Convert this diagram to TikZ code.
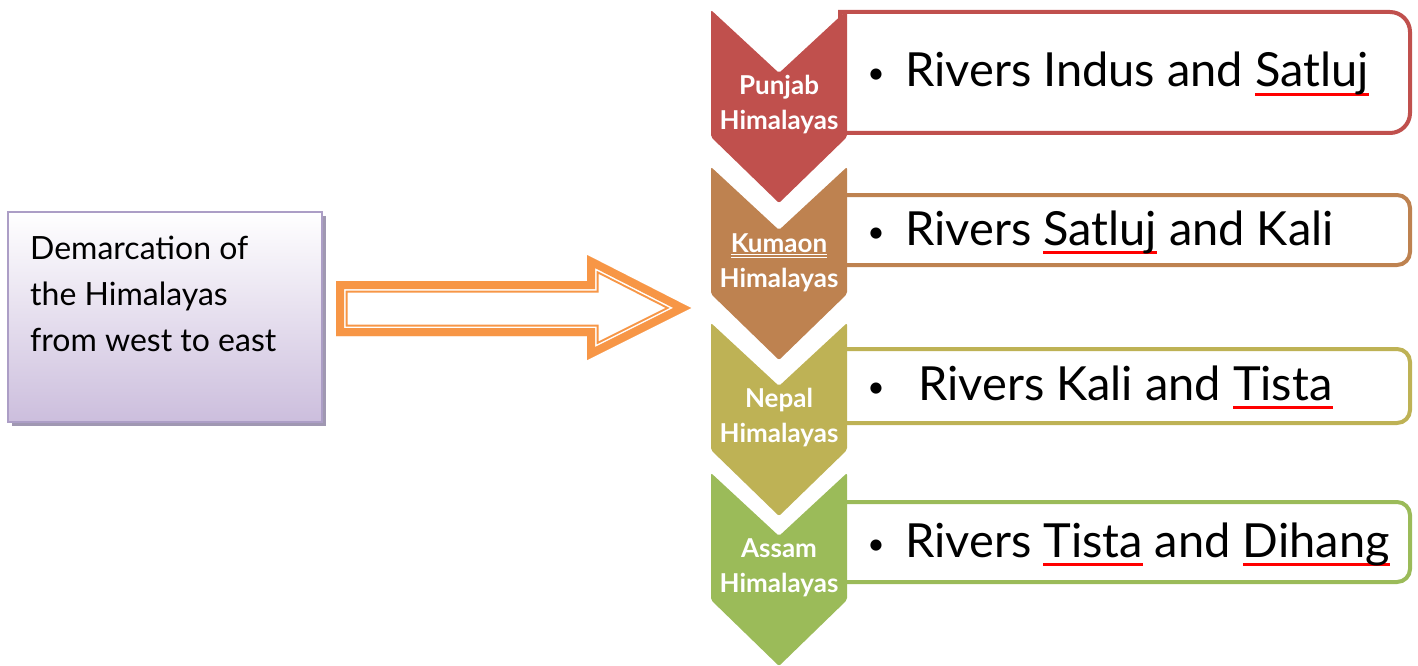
\documentclass[tikz,border=0pt]{standalone}
\usepackage{fontspec}
\setmainfont{Lato}
\definecolor{cRed}{RGB}{192,80,77}
\definecolor{cBrown}{RGB}{190,130,80}
\definecolor{cOlive}{RGB}{190,178,85}
\definecolor{cGreen}{RGB}{155,187,89}
\definecolor{cOrange}{RGB}{247,150,70}
\definecolor{cLav}{RGB}{204,190,221}
\definecolor{cLavB}{RGB}{172,158,198}
\definecolor{cShadow}{RGB}{160,152,178}
\newsavebox\ulbox
\newcommand\redul[1]{\sbox\ulbox{#1}\rlap{\textcolor{red}{\rule[-9pt]{\wd\ulbox}{3pt}}}\usebox\ulbox}
\newcommand\dblul[1]{\sbox\ulbox{#1}\rlap{\rule[-2pt]{\wd\ulbox}{1pt}}\rlap{\rule[-5pt]{\wd\ulbox}{1pt}}\usebox\ulbox}
\newcommand\chevshape[2]{%
  \fill[#2, rounded corners=2pt] (711,#1) -- (779,{#1+63}) -- (847,#1) -- (847,{#1+127}) -- (779,{#1+193}) -- (711,{#1+127}) -- cycle;}
\newcommand\riverbox[4]{% top, bottom, radius, color
  \draw[rbox, draw=#4] (840,#1) [rounded corners=#3pt] -- (1410,#1) -- (1410,#2) [sharp corners] -- (840,#2) -- cycle;}
\tikzset{
  rbox/.style={line width=4pt, fill=white},
  chevlabel/.style={text=white, align=center, inner sep=0pt, font=\fontsize{26}{35}\selectfont\bfseries},
  rivertext/.style={anchor=base west, inner sep=0pt, font=\fontsize{47}{50}\selectfont},
  bullettext/.style={anchor=base, inner sep=0pt, font=\fontsize{30}{36}\selectfont},
  lefttext/.style={anchor=base west, inner sep=0pt, font=\fontsize{32}{36}\selectfont},
}
\begin{document}
\begin{tikzpicture}[x=1pt,y=-1pt]
\useasboundingbox (0,0) rectangle (1418,666);
% left box
\fill[cShadow] (12,216) rectangle (326,426);
\shade[top color=white, bottom color=cLav] (8,212) rectangle (322,422);
\draw[cLavB, line width=2pt] (8,212) rectangle (322,422);
\node[lefttext] (l1) at (30,259) {Demarcation of};
\node[lefttext] (l2) at (30,305) {the Himalayas};
\node[lefttext] (l3) at (30,351) {from west to east};
% arrow
\coordinate (a1) at (336,281);
\coordinate (a2) at (587,281);
\coordinate (a3) at (587,255);
\coordinate (a4) at (691,308);
\coordinate (a5) at (587,360);
\coordinate (a6) at (587,336);
\coordinate (a7) at (336,336);
\begin{scope}
\clip (a1) -- (a2) -- (a3) -- (a4) -- (a5) -- (a6) -- (a7) -- cycle;
\fill[white] (a1) -- (a2) -- (a3) -- (a4) -- (a5) -- (a6) -- (a7) -- cycle;
\foreach \w/\c in {23/cOrange,19/white,16/cOrange}
  \draw[\c, line width=\w pt, line join=miter] (a1) -- (a2) -- (a3) -- (a4) -- (a5) -- (a6) -- (a7) -- cycle;
\end{scope}
% right boxes
\riverbox{12}{133}{20}{cRed}
\riverbox{195}{265}{13}{cBrown}
\riverbox{349}{423}{13}{cOlive}
\riverbox{502}{582}{13}{cGreen}
% chevrons
\chevshape{10}{cRed}
\chevshape{167}{cBrown}
\chevshape{323}{cOlive}
\chevshape{473}{cGreen}
\node[chevlabel] (c1) at (779,105) {Punjab\\Himalayas};
\node[chevlabel] (c2) at (779,263) {\dblul{Kumaon}\\Himalayas};
\node[chevlabel] (c3) at (779,418) {Nepal\\Himalayas};
\node[chevlabel] (c4) at (779,568) {Assam\\Himalayas};
% texts
\node[bullettext] (b1) at (876,84) {\textbullet};
\node[rivertext] (r1) at (905,87) {Rivers Indus and \redul{Satluj}};
\node[bullettext] (b2) at (876,242) {\textbullet};
\node[rivertext] (r2) at (905,245) {Rivers \redul{Satluj} and Kali};
\node[bullettext] (b3) at (876,397) {\textbullet};
\node[rivertext] (r3) at (918,400) {Rivers Kali and \redul{Tista}};
\node[bullettext] (b4) at (876,554) {\textbullet};
\node[rivertext] (r4) at (905,557) {Rivers \redul{Tista} and \redul{Dihang}};
\end{tikzpicture}
\end{document}
